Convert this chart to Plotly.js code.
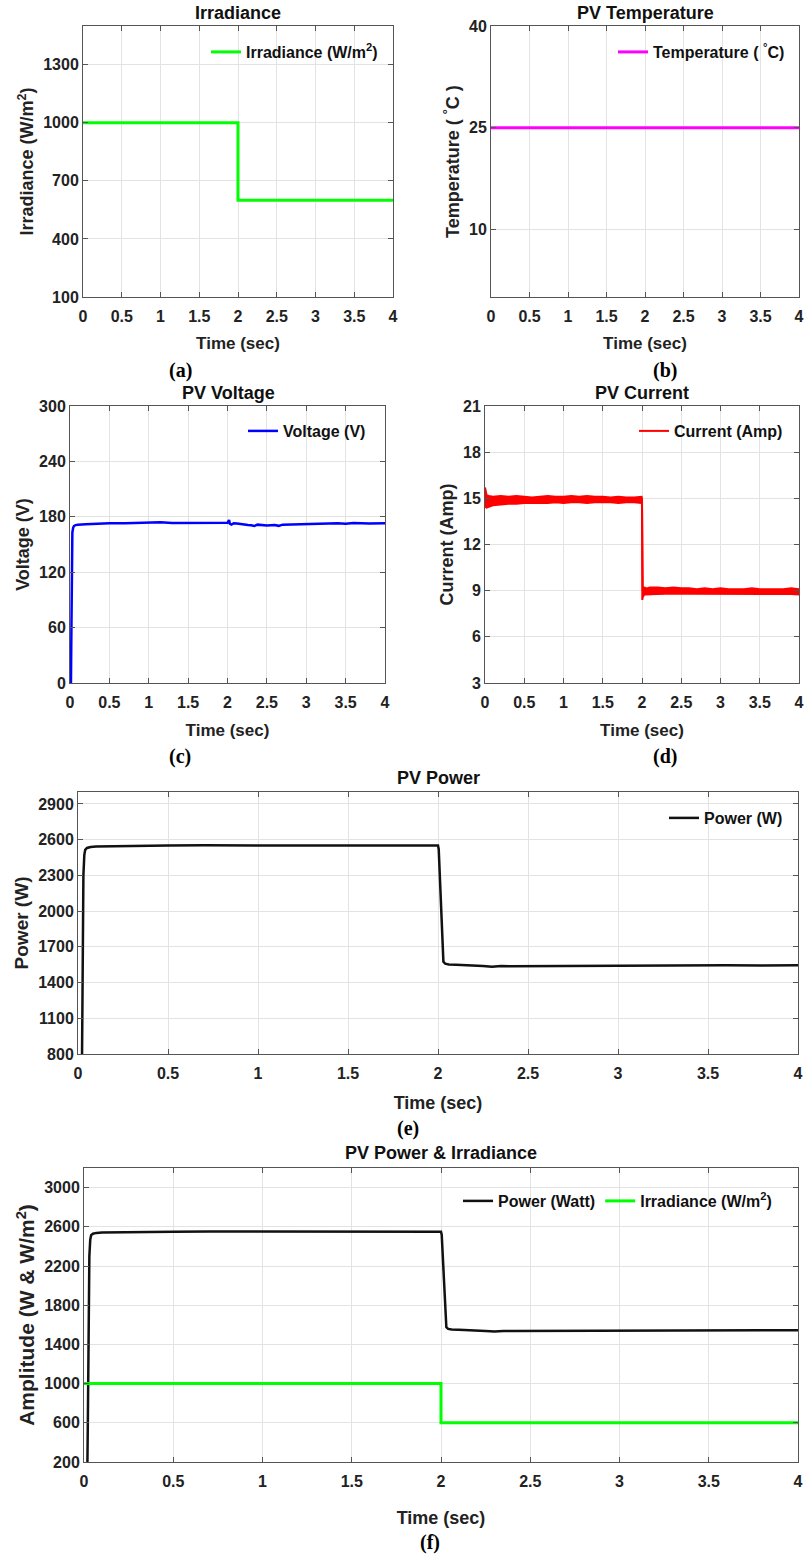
<!DOCTYPE html>
<html>
<head>
<meta charset="utf-8">
<script src="https://cdn.plot.ly/plotly-3.0.1.min.js"></script>
<style>
html,body{margin:0;padding:0;background:#fff;}
#chart{width:804px;height:1555px;}
</style>
</head>
<body>
<div id="chart"></div>
<script>
// ---------------- DATA ----------------
const timeTickVals = [0, 0.5, 1, 1.5, 2, 2.5, 3, 3.5, 4];
const timeTickText = ['0', '0.5', '1', '1.5', '2', '2.5', '3', '3.5', '4'];

const irrTickVals = [100, 400, 700, 1000, 1300];
const tempTickVals = [10, 25, 40];
const voltTickVals = [0, 60, 120, 180, 240, 300];
const curTickVals = [3, 6, 9, 12, 15, 18, 21];
const powTickVals = [800, 1100, 1400, 1700, 2000, 2300, 2600, 2900];
const ampTickVals = [200, 600, 1000, 1400, 1800, 2200, 2600, 3000];

// (a) irradiance step
const irrTime = [0, 2, 2, 4];
const irrValue = [1000, 1000, 600, 600];

// (b) temperature
const tempTime = [0, 4];
const tempValue = [25, 25];

// (c) PV voltage
const voltTime = [0, 0.012, 0.016, 0.02, 0.025, 0.03, 0.04, 0.05, 0.07, 0.1, 0.2, 0.3, 0.5, 0.7, 0.9, 1.1, 1.15, 1.3, 1.5, 1.7, 1.9, 2.0, 2.02, 2.03, 2.05, 2.08, 2.12, 2.18, 2.22, 2.26, 2.3, 2.34, 2.38, 2.45, 2.5, 2.6, 2.65, 2.7, 2.8, 2.9, 3.0, 3.2, 3.4, 3.5, 3.6, 3.8, 4.0];
const voltValue = [0, 0, 40, 100, 150, 163, 168, 170, 171, 171.5, 172, 172.5, 173, 173, 173.2, 173.3, 174, 173.3, 173.5, 173.2, 173.3, 173.5, 176.5, 172.5, 171.5, 173, 172.8, 171.8, 171.5, 171, 170.8, 170, 171.5, 170.8, 170.5, 171, 170.2, 171.5, 171.8, 172.2, 172.5, 172.8, 173, 172.5, 173.2, 172.8, 173];

// (d) PV current (noisy band: upper / lower envelope)
const curTime = [0, 0.005, 0.02, 0.05, 0.1, 0.2, 0.3, 0.4, 0.5, 0.6, 0.7, 0.8, 0.9, 1.0, 1.1, 1.2, 1.3, 1.4, 1.5, 1.6, 1.7, 1.8, 1.9, 1.995, 2.0, 2.004, 2.01, 2.03, 2.06, 2.1, 2.2, 2.3, 2.4, 2.5, 2.6, 2.7, 2.8, 2.9, 3.0, 3.1, 3.2, 3.3, 3.4, 3.5, 3.6, 3.7, 3.8, 3.9, 4.0];
const curHigh = [15.7, 15.6, 15.2, 15.15, 15.1, 15.15, 15.1, 15.15, 15.1, 15.05, 15.1, 15.15, 15.1, 15.1, 15.15, 15.1, 15.15, 15.1, 15.1, 15.05, 15.1, 15.05, 15.05, 15.1, 15.0, 9.2, 9.15, 9.2, 9.15, 9.2, 9.2, 9.15, 9.2, 9.15, 9.15, 9.1, 9.15, 9.1, 9.15, 9.1, 9.1, 9.1, 9.15, 9.1, 9.1, 9.1, 9.1, 9.15, 9.1];
const curLow = [14.6, 14.45, 14.4, 14.45, 14.55, 14.6, 14.65, 14.65, 14.7, 14.7, 14.7, 14.7, 14.75, 14.7, 14.75, 14.75, 14.7, 14.75, 14.75, 14.75, 14.7, 14.75, 14.75, 14.7, 14.6, 8.4, 8.6, 8.75, 8.75, 8.78, 8.78, 8.8, 8.78, 8.8, 8.8, 8.8, 8.82, 8.8, 8.8, 8.82, 8.8, 8.8, 8.8, 8.82, 8.8, 8.8, 8.8, 8.78, 8.75];

// (e)/(f) PV power
const powTime = [0, 0.018, 0.022, 0.026, 0.03, 0.035, 0.04, 0.05, 0.07, 0.1, 0.2, 0.3, 0.5, 0.7, 0.9, 1.1, 1.3, 1.5, 1.7, 1.9, 1.99, 2.0, 2.004, 2.01, 2.015, 2.02, 2.025, 2.03, 2.04, 2.06, 2.1, 2.15, 2.2, 2.25, 2.3, 2.35, 2.4, 2.5, 2.6, 2.7, 2.8, 3.0, 3.2, 3.4, 3.6, 3.8, 4.0];
const powValue = [0, 0, 700, 1700, 2300, 2470, 2515, 2530, 2538, 2542, 2545, 2548, 2550, 2552, 2551, 2552, 2551, 2552, 2551, 2552, 2551, 2550, 2520, 2300, 2050, 1800, 1630, 1575, 1558, 1552, 1550, 1548, 1545, 1538, 1532, 1538, 1536, 1537, 1539, 1538, 1540, 1542, 1544, 1545, 1545, 1544, 1545];

// ---------------- LAYOUT HELPERS ----------------
const W = 804, H = 1555;
const px = v => v / W;
const py = v => 1 - v / H;

const FONT = 'Liberation Sans, Arial, Helvetica, sans-serif';
const TXT = '#222222';

function xAxis(x0, x1, anchor, fs, titleFs, standoff) {
  return {
    domain: [px(x0), px(x1)], anchor: anchor, range: [0, 4],
    tickmode: 'array', tickvals: timeTickVals, ticktext: timeTickText,
    ticks: 'inside', ticklen: 5, tickcolor: '#555', mirror: 'ticks',
    showline: true, linecolor: '#555', linewidth: 1,
    showgrid: true, gridcolor: '#e3e3e3', gridwidth: 1, zeroline: false,
    tickfont: {family: FONT, size: fs, color: TXT, weight: 'bold'},
    ticklabelstandoff: 5,
    title: {text: 'Time (sec)', font: {family: FONT, size: titleFs, color: TXT, weight: 'bold'}, standoff: standoff},
    automargin: false, fixedrange: true
  };
}
function yAxis(y0, y1, anchor, range, tv, title, fs, titleFs, standoff) {
  return {
    domain: [py(y1), py(y0)], anchor: anchor, range: range,
    tickmode: 'array', tickvals: tv, ticktext: tv.map(String),
    ticks: 'inside', ticklen: 5, tickcolor: '#555', mirror: 'ticks',
    showline: true, linecolor: '#555', linewidth: 1,
    showgrid: true, gridcolor: '#e3e3e3', gridwidth: 1, zeroline: false,
    tickfont: {family: FONT, size: fs, color: TXT, weight: 'bold'},
    title: {text: title, font: {family: FONT, size: titleFs, color: TXT, weight: 'bold'}, standoff: standoff},
    automargin: false, fixedrange: true
  };
}
function legendAt(xText, yc) {
  return {
    x: px(xText - 42), y: py(yc), xanchor: 'left', yanchor: 'middle',
    bgcolor: 'rgba(255,255,255,0)', borderwidth: 0,
    font: {family: FONT, size: 16, color: '#111', weight: 'bold'},
    itemwidth: 30, tracegroupgap: 0
  };
}

const traces = [
  {x: irrTime, y: irrValue, xaxis: 'x', yaxis: 'y', type: 'scatter', mode: 'lines',
   line: {color: '#00ff00', width: 3}, name: 'Irradiance (W/m<sup>2</sup>)', legend: 'legend', showlegend: true},
  {x: tempTime, y: tempValue, xaxis: 'x2', yaxis: 'y2', type: 'scatter', mode: 'lines',
   line: {color: '#ff00ff', width: 3}, name: 'Temperature ( <sup>°</sup>C)', legend: 'legend2', showlegend: true},
  {x: voltTime, y: voltValue, xaxis: 'x3', yaxis: 'y3', type: 'scatter', mode: 'lines',
   line: {color: '#0000ff', width: 2.5}, name: 'Voltage (V)', legend: 'legend3', showlegend: true},
  {x: curTime, y: curHigh, xaxis: 'x4', yaxis: 'y4', type: 'scatter', mode: 'lines',
   line: {color: '#ff0000', width: 2}, name: 'Current (Amp)', legend: 'legend4', showlegend: true},
  {x: curTime, y: curLow, xaxis: 'x4', yaxis: 'y4', type: 'scatter', mode: 'lines',
   line: {color: '#ff0000', width: 2}, fill: 'tonexty', fillcolor: '#ff0000', showlegend: false, legend: 'legend4'},
  {x: powTime, y: powValue, xaxis: 'x5', yaxis: 'y5', type: 'scatter', mode: 'lines',
   line: {color: '#111111', width: 2.5}, name: 'Power (W)', legend: 'legend5', showlegend: true},
  {x: powTime, y: powValue, xaxis: 'x6', yaxis: 'y6', type: 'scatter', mode: 'lines',
   line: {color: '#111111', width: 2.5}, name: 'Power (Watt)', legend: 'legend6', showlegend: true},
  {x: irrTime, y: irrValue, xaxis: 'x6', yaxis: 'y6', type: 'scatter', mode: 'lines',
   line: {color: '#00ff00', width: 3}, name: 'Irradiance (W/m<sup>2</sup>)', legend: 'legend6', showlegend: true}
];

function ann(text, x, y, size, family) {
  return {text: text, x: px(x), y: py(y), xref: 'paper', yref: 'paper', xanchor: 'center', yanchor: 'middle',
    showarrow: false, font: {family: family || FONT, size: size, color: family ? '#000' : '#111', weight: 'bold'}};
}
const SERIF = 'Liberation Serif, Times New Roman, serif';

const leg6 = legendAt(500, 1201);
leg6.orientation = 'h';

const layout = {
  width: W, height: H, margin: {l: 0, r: 0, t: 0, b: 0},
  paper_bgcolor: '#fff', plot_bgcolor: '#fff',
  showlegend: true,
  xaxis: xAxis(83, 393, 'y', 16, 17, 12),
  yaxis: yAxis(26, 297, 'x', [100, 1500], irrTickVals, 'Irradiance (W/m<sup>2</sup>)', 16, 18, 4),
  xaxis2: xAxis(491, 799, 'y2', 16, 17, 12),
  yaxis2: yAxis(26, 297, 'x2', [0, 40], tempTickVals, 'Temperature ( <sup>°</sup>C )', 16, 18, 4),
  xaxis3: xAxis(70, 385, 'y3', 16, 17, 13),
  yaxis3: yAxis(406, 683, 'x3', [0, 300], voltTickVals, 'Voltage (V)', 16, 18, 4),
  xaxis4: xAxis(485, 799, 'y4', 16, 17, 13),
  yaxis4: yAxis(406, 683, 'x4', [3, 21], curTickVals, 'Current (Amp)', 16, 18, 4),
  xaxis5: xAxis(78, 798, 'y5', 16, 18, 15),
  yaxis5: yAxis(792, 1054, 'x5', [800, 3000], powTickVals, 'Power (W)', 16, 19, 4),
  xaxis6: xAxis(84, 798, 'y6', 16, 18, 22),
  yaxis6: yAxis(1168, 1462, 'x6', [200, 3200], ampTickVals, 'Amplitude (W & W/m<sup>2</sup>)', 16, 21, 3),
  legend: legendAt(248, 52),
  legend2: legendAt(655, 52),
  legend3: legendAt(285, 431),
  legend4: legendAt(676, 431),
  legend5: legendAt(706, 818),
  legend6: leg6,
  annotations: [
    ann('Irradiance', 238, 13, 18),
    ann('PV Temperature', 645, 13, 18),
    ann('PV Voltage', 228, 393, 18),
    ann('PV Current', 642, 393, 18),
    ann('PV Power', 438, 778, 18),
    ann('PV Power & Irradiance', 441, 1153, 18),
    ann('(a)', 180, 370, 20, SERIF),
    ann('(b)', 665, 370, 20, SERIF),
    ann('(c)', 180, 757, 20, SERIF),
    ann('(d)', 665, 757, 20, SERIF),
    ann('(e)', 408, 1128, 20, SERIF),
    ann('(f)', 430, 1542, 20, SERIF)
  ]
};

Plotly.newPlot('chart', traces, layout, {displayModeBar: false, staticPlot: true});
</script>
</body>
</html>
